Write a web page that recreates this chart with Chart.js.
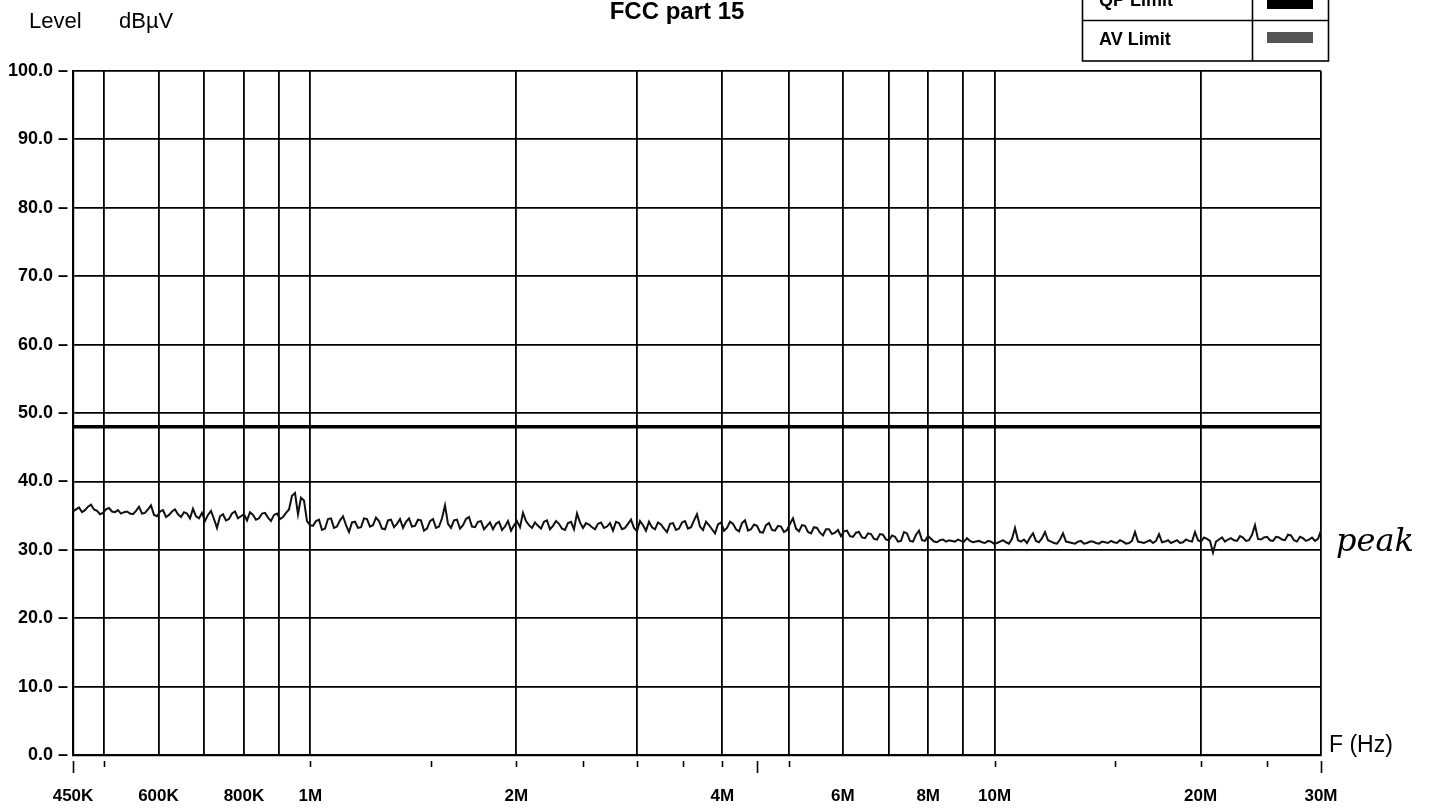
<!DOCTYPE html>
<html>
<head>
<meta charset="utf-8">
<title>FCC part 15</title>
<script src="https://cdn.jsdelivr.net/npm/chart.js@4.4.1/dist/chart.umd.min.js"></script>
<style>
    html, body { margin: 0; padding: 0; background: #fff; }
    #wrap { position: relative; width: 1445px; height: 809px; }
</style>
</head>
<body>
<div id="wrap"><canvas id="emiChart" width="1445" height="809"></canvas></div>
<script>
// sweep settings of the receiver (MHz), log sweep
const sweepStart = 0.45;
const sweepStop = 30;

// peak detector trace, dBuV
const peakLevels = [
    35.6, 35.9, 36.2, 35.5, 35.8, 36.3, 36.6, 35.9, 35.7, 35.2, 35.4, 35.9, 36.1, 35.6, 35.5, 35.8, 35.3, 35.5, 35.6, 35.3,
    35.2, 35.7, 36.3, 35.3, 35.4, 35.9, 36.5, 35.1, 34.9, 35.6, 35.8, 34.8, 35.1, 35.6, 35.9, 35.2, 34.8, 35.5, 35.3, 34.6,
    36.0, 34.9, 34.6, 35.4, 34.2, 35.1, 35.7, 34.5, 33.2, 34.9, 35.2, 34.3, 34.5, 35.3, 35.6, 34.6, 34.9, 35.2, 34.3, 35.5,
    35.1, 34.4, 34.6, 35.3, 35.4, 34.7, 34.2, 35.1, 35.3, 34.5, 34.8, 35.4, 35.9, 37.9, 38.3, 35.2, 37.6, 37.2, 34.2, 33.6,
    33.5, 34.2, 34.4, 32.9, 33.1, 34.5, 34.6, 33.2, 33.4, 34.3, 34.9, 33.6, 32.6, 34.0, 34.1, 33.2, 33.3, 34.6, 34.5, 33.4,
    33.6, 34.7, 34.2, 33.1, 33.0, 34.3, 34.4, 33.3, 33.8, 34.5, 33.2, 34.1, 34.6, 33.4, 33.5, 34.4, 34.3, 32.8, 33.1, 34.2,
    34.5, 33.2, 33.4, 34.6, 36.5, 33.8, 33.2, 34.3, 34.4, 33.1, 33.6, 34.5, 34.8, 33.4, 33.3, 34.1, 34.2, 33.0, 33.5, 34.0,
    33.0, 33.8, 34.1, 32.9, 33.4, 34.2, 32.8, 33.6, 34.2, 33.3, 35.4, 34.2, 33.6, 33.2, 34.0, 33.5, 33.1, 34.1, 34.3, 33.0,
    33.5, 34.2, 33.8, 33.1, 32.9, 33.9, 34.1, 33.0, 35.3, 34.0, 33.2, 33.9, 33.7, 33.3, 33.0, 33.8, 34.0, 33.2, 33.4, 33.9,
    32.8, 34.1, 33.9, 33.0, 33.2, 33.8, 34.4, 33.2, 32.7, 34.2, 33.6, 32.8, 34.1, 33.3, 33.0, 34.0, 33.7, 33.1, 32.6, 33.8,
    33.9, 32.9, 33.1, 34.0, 34.2, 33.1, 33.3, 34.3, 35.2, 33.4, 32.9, 34.1, 33.6, 33.0, 32.4, 33.7, 34.0, 32.8, 33.2, 34.1,
    33.8, 33.0, 32.7, 33.9, 34.3, 32.8, 33.0, 33.7, 33.5, 32.6, 32.5, 33.6, 33.9, 32.9, 32.8, 33.5, 33.4, 32.6, 32.9, 33.8,
    34.6, 33.1, 32.7, 33.6, 33.5, 32.6, 32.4, 33.3, 33.2, 32.5, 32.1, 33.0, 33.0, 32.3, 32.5, 32.9, 32.0, 32.7, 32.8, 32.0,
    31.9, 32.5, 32.6, 31.8, 31.7, 32.4, 32.3, 31.6, 31.5, 32.3, 32.2, 31.5, 31.4, 32.1, 31.9, 31.2, 31.3, 32.6, 32.4, 31.3,
    31.2, 32.2, 32.8, 31.4, 31.3, 32.0, 31.6, 31.2, 31.1, 31.4, 31.5, 31.2, 31.4, 31.3, 31.2, 31.5, 31.3, 31.2, 31.7, 31.3,
    31.1, 31.2, 31.3, 31.1, 31.0, 31.3, 31.2, 30.9, 31.0, 31.2, 31.4, 31.1, 30.9, 31.6, 33.2, 31.4, 31.2, 31.5, 31.0, 31.8,
    32.4, 31.3, 31.1, 31.7, 32.6, 31.4, 31.2, 31.0, 30.9, 31.5, 32.4, 31.2, 31.1, 31.0, 30.9, 31.2, 31.3, 30.9, 31.0, 31.2,
    31.2, 31.0, 30.9, 31.2, 31.1, 31.0, 31.3, 31.1, 31.0, 31.4, 31.2, 30.9, 31.0, 31.3, 32.6, 31.2, 31.1, 31.0, 31.2, 31.4,
    31.0, 31.3, 32.3, 31.1, 31.2, 31.4, 31.0, 31.2, 31.4, 31.0, 31.1, 31.5, 31.3, 31.2, 32.6, 31.4, 31.2, 31.8, 31.6, 31.3,
    29.6, 31.2, 31.5, 31.8, 31.2, 31.5, 31.7, 31.4, 31.3, 32.0, 31.8, 31.3, 31.4, 32.2, 33.6, 31.6, 31.5, 31.8, 31.9, 31.4,
    31.3, 31.9, 31.8, 31.5, 31.4, 32.2, 32.1, 31.4, 31.2, 31.9, 31.7, 31.3, 31.5, 31.8, 31.3, 31.6, 32.8
];

// limit line
const qpLimitFreqs = [0.45, 30];
const qpLimitLevels = [48, 48];

// axes
const gridFreqs = [0.45, 0.5, 0.6, 0.7, 0.8, 0.9, 1, 2, 3, 4, 5, 6, 7, 8, 9, 10, 20, 30];
const freqLabels = { 0.45: '450K', 0.6: '600K', 0.8: '800K', 1: '1M', 2: '2M', 4: '4M', 6: '6M', 8: '8M', 10: '10M', 20: '20M', 30: '30M' };
const smallTickFreqs = [0.45, 0.5, 1, 1.5, 2, 2.5, 3, 3.5, 4, 4.5, 5, 10, 15, 20, 25, 30];
const longTickFreqs = [0.45, 4.5, 30];
const levelMin = 0;
const levelMax = 100;
const levelStep = 10;

const FONT = '"Liberation Sans", Arial, Helvetica, sans-serif';

// frequency of every sweep point
const sweepFreqs = peakLevels.map(function (v, i) {
    return sweepStart * Math.pow(sweepStop / sweepStart, i / (peakLevels.length - 1));
});

// texts and legend table around the plot
const decorations = {
    id: 'decorations',
    afterDraw(chart) {
        const ctx = chart.ctx;
        const x = chart.scales.x;
        const area = chart.chartArea;
        ctx.save();
        ctx.fillStyle = '#000';
        ctx.strokeStyle = '#000';

        // title
        ctx.font = 'bold 24px ' + FONT;
        ctx.textAlign = 'center';
        ctx.textBaseline = 'alphabetic';
        ctx.fillText('FCC part 15', 677, 19);

        // y unit
        ctx.font = '22px ' + FONT;
        ctx.textAlign = 'left';
        ctx.fillText('Level', 29, 28);
        ctx.fillText('dBµV', 119, 28);

        // F (Hz)
        ctx.font = '23px ' + FONT;
        ctx.fillText('F (Hz)', 1329, 752);

        // handwritten note
        ctx.font = 'italic 32px "DejaVu Serif", serif';
        ctx.fillText('peak', 1336, 551);

        // small ticks under the axis
        ctx.lineWidth = 1.6;
        smallTickFreqs.forEach(function (f) {
            const px = Math.round(x.getPixelForValue(f)) + 0.5;
            const len = longTickFreqs.indexOf(f) >= 0 ? 12 : 6;
            ctx.beginPath();
            ctx.moveTo(px, area.bottom + 6);
            ctx.lineTo(px, area.bottom + 6 + len);
            ctx.stroke();
        });

        // legend table (top part is cut by the page edge)
        ctx.lineWidth = 1.6;
        ctx.strokeRect(1082.5, -20, 246, 81);
        ctx.beginPath();
        ctx.moveTo(1082, 20.5); ctx.lineTo(1329, 20.5);
        ctx.moveTo(1252.5, -20); ctx.lineTo(1252.5, 61);
        ctx.stroke();
        ctx.font = 'bold 18px ' + FONT;
        ctx.textBaseline = 'middle';
        ctx.fillText('QP Limit', 1099, 1);
        ctx.fillText('AV Limit', 1099, 40);
        ctx.fillStyle = '#000';
        ctx.fillRect(1267, 0, 46, 9);
        ctx.fillStyle = '#555';
        ctx.fillRect(1267, 32, 46, 11);
        ctx.restore();
    }
};

const ctx = document.getElementById('emiChart').getContext('2d');

new Chart(ctx, {
    type: 'line',
    data: {
        datasets: [{
            label: 'Peak',
            data: sweepFreqs.map((f, i) => ({ x: f, y: peakLevels[i] })),
            borderColor: '#111',
            borderWidth: 2,
            pointRadius: 0,
            tension: 0
        }, {
            label: 'QP Limit',
            data: qpLimitFreqs.map((f, i) => ({ x: f, y: qpLimitLevels[i] })),
            borderColor: '#000',
            borderWidth: 3.4,
            pointRadius: 0
        }]
    },
    options: {
        responsive: false,
        animation: false,
        layout: { padding: { left: 0, top: 71, right: 124, bottom: 0 } },
        plugins: {
            legend: { display: false },
            tooltip: { enabled: false }
        },
        scales: {
            x: {
                type: 'logarithmic',
                min: sweepStart,
                max: sweepStop,
                afterBuildTicks: (axis) => { axis.ticks = gridFreqs.map(v => ({ value: v })); },
                afterFit: (axis) => { axis.height = 54; },
                grid: { color: '#000', lineWidth: 1.8, drawTicks: false },
                border: { display: true, color: '#000', width: 2.2 },
                ticks: {
                    autoSkip: false,
                    maxRotation: 0,
                    padding: 31,
                    color: '#000',
                    font: { family: FONT, size: 17, weight: 'bold' },
                    callback: (value) => freqLabels[value] || ''
                }
            },
            y: {
                min: levelMin,
                max: levelMax,
                afterFit: (axis) => { axis.width = 73; },
                grid: { color: '#000', lineWidth: 1.8, drawTicks: false },
                border: { display: true, color: '#000', width: 2.2 },
                ticks: {
                    stepSize: levelStep,
                    padding: 5,
                    color: '#000',
                    font: { family: FONT, size: 18, weight: 'bold' },
                    callback: (value) => value.toFixed(1) + ' \u2013'
                }
            }
        }
    },
    plugins: [decorations]
});
</script>
</body>
</html>
